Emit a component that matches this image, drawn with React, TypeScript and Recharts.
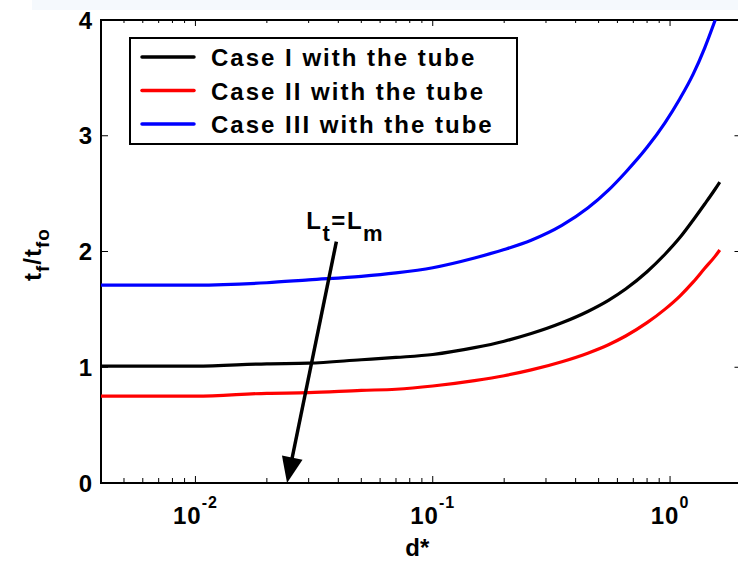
import React from 'react';
import {
  LineChart,
  Line,
  XAxis,
  YAxis,
  Legend,
  ReferenceArea,
  ReferenceLine,
} from 'recharts';

// d* sample points (log axis) and the t_f/t_fo ratio for each case
const dStar = [0.004, 0.01, 0.02, 0.03, 0.05, 0.07, 0.1, 0.15, 0.2, 0.26, 0.35, 0.45, 0.55, 0.65, 0.8, 0.95, 1.1, 1.25, 1.4, 1.55, 1.62];
const caseI = [1.01, 1.01, 1.03, 1.035, 1.065, 1.085, 1.11, 1.169, 1.225, 1.291, 1.384, 1.482, 1.578, 1.676, 1.825, 1.974, 2.12, 2.27, 2.41, 2.54, 2.6];
const caseII = [0.75, 0.75, 0.775, 0.78, 0.8, 0.81, 0.838, 0.885, 0.927, 0.977, 1.048, 1.122, 1.195, 1.27, 1.385, 1.5, 1.615, 1.735, 1.855, 1.96, 2.013];
const caseIII = [1.71, 1.71, 1.73, 1.755, 1.785, 1.815, 1.86, 1.944, 2.017, 2.097, 2.225, 2.375, 2.53, 2.685, 2.9, 3.11, 3.32, 3.53, 3.76, 4.0, null];

const seriesKeys = ['caseI', 'caseII', 'caseIII'];
const seriesNames = ['Case I with the tube', 'Case II with the tube', 'Case III with the tube'];
const seriesColors = ['#000000', '#ff0000', '#0000ff'];

const decadeTicks = [0.01, 0.1, 1];
const decadeExponents = ['-2', '-1', '0'];
const minorTicks = [0.005, 0.006, 0.007, 0.008, 0.009, 0.02, 0.03, 0.04, 0.05, 0.06, 0.07, 0.08, 0.09, 0.2, 0.3, 0.4, 0.5, 0.6, 0.7, 0.8, 0.9];
const yTicks = [0, 1, 2, 3, 4];

// arrow marking L_t = L_m
const arrowStart = { x: 0.03925, y: 2.085 };
const arrowEnd = { x: 0.02432, y: 0 };

const data = dStar.map((d, i) => ({ d, caseI: caseI[i], caseII: caseII[i], caseIII: caseIII[i] }));

const FONT = '"Liberation Sans", Arial, Helvetica, sans-serif';
const W = 760;
const H = 561;
const MARGIN = { top: 20, right: 18.5, left: 41, bottom: 28 };
const Y_AXIS_W = 60;
const X_AXIS_H = 50;
const PLOT_W = W - MARGIN.left - MARGIN.right - Y_AXIS_W;
const PLOT_H = H - MARGIN.top - MARGIN.bottom - X_AXIS_H;

const XTick = (props: any) => {
  const { x, y, payload } = props;
  const idx = decadeTicks.findIndex((t) => Math.abs(t - payload.value) < 1e-9);
  const major = idx >= 0;
  const len = major ? 7 : 5;
  return (
    <g>
      <line x1={x} y1={y} x2={x} y2={y - len} stroke="#000" strokeWidth={1} />
      <line x1={x} y1={y - PLOT_H} x2={x} y2={y - PLOT_H + (major ? 6 : 3)} stroke="#000" strokeWidth={1} />
      {major && (
        <text x={x} y={y + 41} textAnchor="middle" fontFamily={FONT} fontWeight="bold" fontSize={24} letterSpacing={1} fill="#000">
          10
          <tspan dy={-16} fontSize={16}>{decadeExponents[idx]}</tspan>
        </text>
      )}
    </g>
  );
};

const YTick = (props: any) => {
  const { x, y, payload } = props;
  return (
    <g>
      <line x1={x} y1={y} x2={x + 7} y2={y} stroke="#000" strokeWidth={1} />
      <line x1={x + PLOT_W} y1={y} x2={x + PLOT_W - 7} y2={y} stroke="#000" strokeWidth={1} />
      <text x={x - 9} y={y + 8.5} textAnchor="end" fontFamily={FONT} fontWeight="bold" fontSize={24} fill="#000">
        {payload.value}
      </text>
    </g>
  );
};

const Arrow = (props: any) => {
  const { x1, y1, x2, y2 } = props;
  const dx = x2 - x1;
  const dy = y2 - y1;
  const len = Math.sqrt(dx * dx + dy * dy);
  const ux = dx / len;
  const uy = dy / len;
  const headLen = 26;
  const headHalf = 10.5;
  const bx = x2 - ux * headLen;
  const by = y2 - uy * headLen;
  const pts = `${x2},${y2} ${bx - uy * headHalf},${by + ux * headHalf} ${bx + uy * headHalf},${by - ux * headHalf}`;
  return (
    <g>
      <line x1={x1} y1={y1} x2={bx + ux * 2} y2={by + uy * 2} stroke="#000" strokeWidth={3.5} />
      <polygon points={pts} fill="#000" />
      <text x={x1 - 30} y={y1 - 13} fontFamily={FONT} fontWeight="bold" fontSize={24} letterSpacing={1.5} fill="#000">
        L<tspan dy={12} fontSize={22}>t</tspan>
        <tspan dy={-12}>=L</tspan>
        <tspan dy={12} fontSize={22}>m</tspan>
      </text>
    </g>
  );
};

const LegendBox = () => (
  <svg width={390} height={109} style={{ display: 'block' }}>
    <rect x={1} y={1} width={387} height={106} fill="#fff" stroke="#000" strokeWidth={2} />
    {seriesNames.map((name, i) => (
      <g key={name}>
        <line x1={13} x2={65} y1={20 + i * 33.5} y2={20 + i * 33.5} stroke={seriesColors[i]} strokeWidth={3.5} strokeLinecap="round" />
        <text x={82} y={29 + i * 33.5} fontFamily={FONT} fontWeight="bold" fontSize={24} letterSpacing={2} fill="#000">
          {name}
        </text>
      </g>
    ))}
  </svg>
);

const YLabel = (props: any) => {
  const { viewBox } = props;
  const cx = 41;
  const cy = viewBox.y + viewBox.height / 2 + 3;
  return (
    <text x={cx} y={cy} transform={`rotate(-90, ${cx}, ${cy})`} textAnchor="middle" fontFamily={FONT} fontWeight="bold" fontSize={24} letterSpacing={1} fill="#000">
      t<tspan dy={8} fontSize={19}>f</tspan>
      <tspan dy={-8}>/t</tspan>
      <tspan dy={8} fontSize={19}>fo</tspan>
    </text>
  );
};

const XLabel = (props: any) => {
  const { viewBox } = props;
  return (
    <text x={viewBox.x + viewBox.width / 2 - 4} y={viewBox.y + 73} textAnchor="middle" fontFamily={FONT} fontWeight="bold" fontSize={24} fill="#000">
      d*
    </text>
  );
};

export default function App() {
  return (
    <div style={{ position: 'absolute', left: 0, top: 0, width: 738, height: 561, overflow: 'hidden', background: '#fff' }}>
      <div style={{ position: 'absolute', left: 32, top: 0, right: 0, height: 10, background: '#f5f9fd' }} />
      <LineChart width={W} height={H} data={data} margin={MARGIN}>
        <XAxis
          dataKey="d"
          type="number"
          scale="log"
          domain={[0.004, 2]}
          allowDataOverflow
          ticks={[...minorTicks, ...decadeTicks].sort((a, b) => a - b)}
          interval={0}
          tickSize={0}
          tickMargin={0}
          tickLine={false}
          axisLine={false}
          tick={<XTick />}
          height={X_AXIS_H}
          label={<XLabel />}
        />
        <YAxis
          type="number"
          domain={[0, 4]}
          allowDataOverflow
          ticks={yTicks}
          interval={0}
          tickSize={0}
          tickMargin={0}
          tickLine={false}
          axisLine={false}
          tick={<YTick />}
          width={Y_AXIS_W}
          label={<YLabel />}
        />
        <ReferenceArea x1={0.004} x2={2} y1={0} y2={4} fill="none" stroke="#000" strokeWidth={2} fillOpacity={0} />
        {seriesKeys.map((key, i) => (
          <Line
            key={key}
            dataKey={key}
            name={seriesNames[i]}
            type="monotone"
            stroke={seriesColors[i]}
            strokeWidth={3.2}
            dot={false}
            isAnimationActive={false}
          />
        ))}
        <ReferenceLine segment={[arrowStart, arrowEnd]} shape={(p: any) => <Arrow {...p} />} />
        <Legend
          layout="vertical"
          align="center"
          verticalAlign="middle"
          wrapperStyle={{ left: 129, top: 37, width: 390, height: 109 }}
          content={() => <LegendBox />}
        />
      </LineChart>
    </div>
  );
}
